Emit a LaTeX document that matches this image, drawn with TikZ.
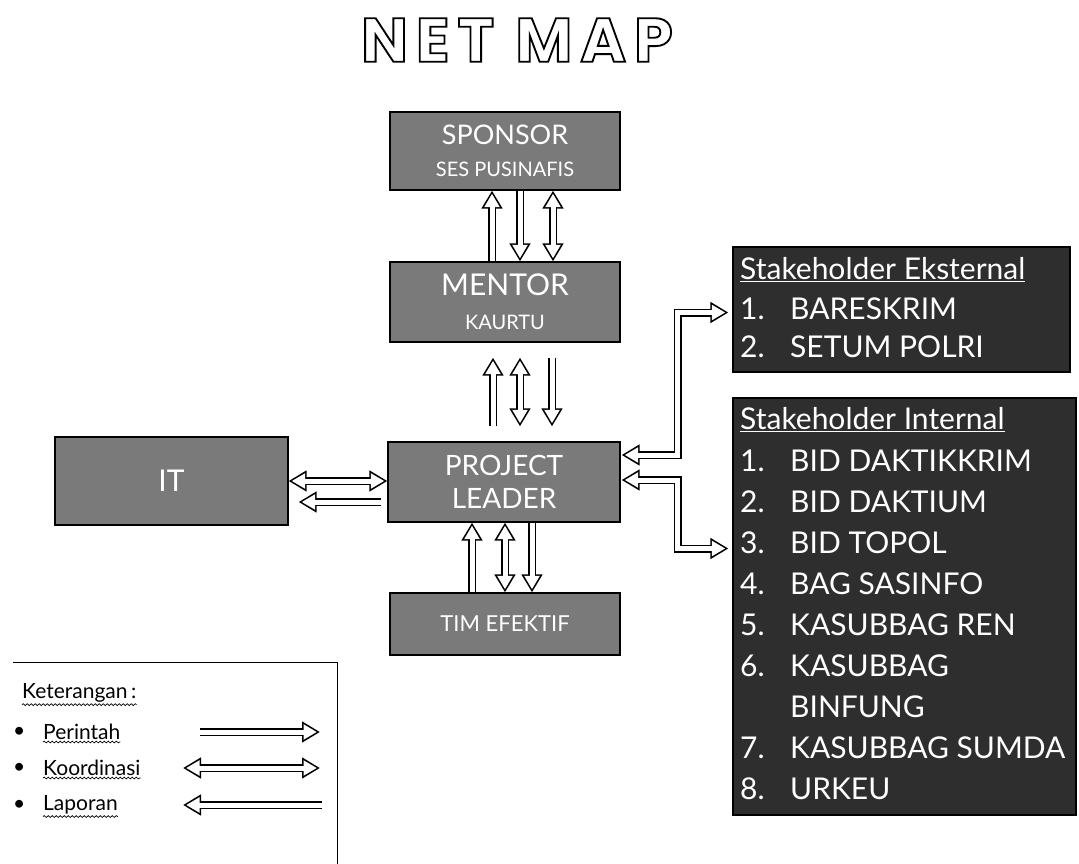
\documentclass[tikz,border=0pt]{standalone}
\usepackage{fontspec}
\setmainfont{Lato}
\newfontfamily\titlefont{Poppins}[LetterSpace=13,FakeBold=3]
\newfontfamily\legfont{Lato}
\usetikzlibrary{arrows.meta,decorations.pathmorphing,calc}
\newcommand\blkR[1]{\draw[outerA,->]#1;\draw[innerA,->,shorten >=3.1pt]#1;}
\newcommand\blkL[1]{\draw[outerA,<-]#1;\draw[innerA,<-,shorten <=3.1pt]#1;}
\newcommand\blkD[1]{\draw[outerA,<->]#1;\draw[innerA,<->,shorten <=3.1pt,shorten >=3.1pt]#1;}
\begin{document}
\begin{tikzpicture}[x=1pt,y=-1pt,
  box/.style={draw=black,line width=1.2pt,fill=black!52,text=white,align=center,inner sep=0pt},
  dbox/.style={box,fill=black!82},
  lbl/.style={text=white,anchor=west,inner sep=0pt,font=\fontsize{30}{32}\selectfont},
  leg/.style={anchor=west,inner sep=0pt,font=\legfont\fontsize{21}{24}\selectfont},
  outerA/.style={line width=8pt,draw=black,>={Triangle[length=18pt,width=20pt]}},
  innerA/.style={line width=5pt,draw=white,>={Triangle[length=13.4pt,width=14.5pt]}},
  wavy/.style={decorate,decoration={snake,amplitude=0.9pt,segment length=4pt},line width=0.7pt}]
\useasboundingbox (0,0) rectangle (1079,864);
% title
\node (title) at (517,40) {\titlefont\bfseries\fontsize{62}{62}\selectfont\color{white}\special{pdf:code 0 G}NET MAP};
% boxes
\node[box,minimum width=230pt,minimum height=78pt,font=\fontsize{27}{30}\selectfont] (sponsor) at (505,151)
  {SPONSOR\\[2pt]{\fontsize{20}{22}\selectfont SES PUSINAFIS}};
\node[box,minimum width=230pt,minimum height=80pt,font=\fontsize{30}{32}\selectfont] (mentor) at (505,302)
  {MENTOR\\[2pt]{\fontsize{20}{22}\selectfont KAURTU}};
\node[box,minimum width=232pt,minimum height=80pt,font=\fontsize{28}{33}\selectfont] (pl) at (504,482)
  {PROJECT\\LEADER};
\node[box,minimum width=230pt,minimum height=62pt,font=\fontsize{22}{24}\selectfont] (tim) at (505,624)
  {TIM EFEKTIF};
\node[box,minimum width=233pt,minimum height=88pt,font=\fontsize{30}{32}\selectfont] (it) at (171.5,481)
  {IT};
\node[dbox,minimum width=337pt,minimum height=125pt] (ext) at (901.5,309.5) {};
\node[dbox,minimum width=343pt,minimum height=417pt] (int) at (904.5,606.5) {};
% eksternal text
\node[lbl] (e0) at (740,270) {\underline{Stakeholder Eksternal}};
\node[lbl] (e1n) at (740,309) {1.};
\node[lbl] (e1) at (790,309) {BARESKRIM};
\node[lbl] (e2n) at (740,347) {2.};
\node[lbl] (e2) at (790,347) {SETUM POLRI};
% internal text
\node[lbl] (i0) at (740,420) {\underline{Stakeholder Internal}};
\node[lbl] (i1n) at (740,461) {1.};
\node[lbl] (i1) at (790,461) {BID DAKTIKKRIM};
\node[lbl] (i2n) at (740,502) {2.};
\node[lbl] (i2) at (790,502) {BID DAKTIUM};
\node[lbl] (i3n) at (740,543) {3.};
\node[lbl] (i3) at (790,543) {BID TOPOL};
\node[lbl] (i4n) at (740,584) {4.};
\node[lbl] (i4) at (790,584) {BAG SASINFO};
\node[lbl] (i5n) at (740,625) {5.};
\node[lbl] (i5) at (790,625) {KASUBBAG REN};
\node[lbl] (i6n) at (740,666) {6.};
\node[lbl] (i6) at (790,666) {KASUBBAG};
\node[lbl] (i6b) at (790,707) {BINFUNG};
\node[lbl] (i7n) at (740,748) {7.};
\node[lbl] (i7) at (790,748) {KASUBBAG SUMDA};
\node[lbl] (i8n) at (740,789) {8.};
\node[lbl] (i8) at (790,789) {URKEU};
% sponsor - mentor
\blkR{($(mentor.north)+(-13,0)$) -- ($(sponsor.south)+(-13,0)$)}
\blkR{($(sponsor.south)+(15,0)$) -- ($(mentor.north)+(15,0)$)}
\blkD{($(sponsor.south)+(48,0)$) -- ($(mentor.north)+(48,0)$)}
% mentor - project leader
\blkL{($(mentor.south)+(-12,15)$) -- ($(pl.north)+(-11,-15)$)}
\blkD{($(mentor.south)+(15,15)$) -- ($(pl.north)+(16,-15)$)}
\blkR{($(mentor.south)+(47,15)$) -- ($(pl.north)+(48,-15)$)}
% project leader - tim
\blkL{($(pl.south)+(-32,0)$) -- ($(tim.north)+(-33,0)$)}
\blkD{($(pl.south)+(1,0)$) -- ($(tim.north)+(0,0)$)}
\blkR{($(pl.south)+(28,0)$) -- ($(tim.north)+(27,0)$)}
% IT - project leader
\blkD{(it.east) -- (it.east -| pl.west)}
\blkR{($(pl.west)+(-6,20)$) -- ($(it.east)+(10,21)$)}
% project leader - stakeholders
\blkD{($(pl.east)+(1,-27)$) -- ++(56,0) |- ($(ext.west)+(-4,3)$)}
\blkD{($(pl.east)+(1,-2)$) -- ++(56,0) |- ($(int.west)+(-4,-58)$)}
% legend
\draw[line width=1pt] (13,662) -- (337,662) -- (337,864);
\node[leg] (ket) at (22,693) {Keterangan\,:};
\node[leg] (b1) at (13,732) {•};
\node[leg] (per) at (43,732) {Perintah};
\node[leg] (b2) at (13,768) {•};
\node[leg] (koo) at (43,768) {Koordinasi};
\node[leg] (b3) at (13,805) {•};
\node[leg] (lap) at (43,805) {Laporan};
\foreach \n in {ket,per,koo,lap}
  \draw[wavy] ($(\n.south west)+(0,2)$) -- ($(\n.south east)+(0,2)$);
\coordinate (pa) at (200,732); \coordinate (pb) at (320,732);
\coordinate (ka) at (183,768); \coordinate (kb) at (320,768);
\coordinate (la) at (183,805); \coordinate (lb) at (322,805);
\blkR{(pa) -- (pb)}
\blkD{(ka) -- (kb)}
\blkL{(la) -- (lb)}
\end{tikzpicture}
\end{document}
